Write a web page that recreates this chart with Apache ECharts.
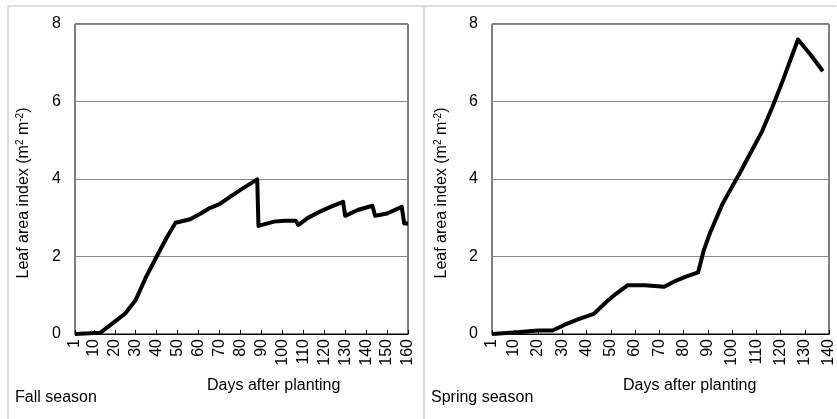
<!DOCTYPE html>
<html>
<head>
<meta charset="utf-8">
<script src="https://cdn.jsdelivr.net/npm/echarts@6/dist/echarts.min.js"></script>
<style>
  html, body { margin: 0; padding: 0; background: #fff; }
  #main { width: 837px; height: 419px; }
</style>
</head>
<body>
<div id="main"></div>
<script>
// fall season: [day, LAI]
const fallData = [
  [1, 0], [13, 0.03], [20, 0.32], [25, 0.53], [30, 0.88], [35, 1.48], [40, 2.0],
  [45, 2.51], [49, 2.87], [56, 2.96], [61, 3.11], [65, 3.24], [70, 3.35], [75, 3.54],
  [80, 3.72], [88, 3.99], [88.6, 2.79], [96, 2.9], [101, 2.92], [106.5, 2.92],
  [107.6, 2.81], [112, 2.99], [118, 3.16], [123, 3.28], [129, 3.41], [130, 3.05],
  [136, 3.2], [143, 3.31], [144.3, 3.05], [150, 3.11], [157, 3.28], [158.2, 2.85], [160, 2.85]
];
// spring season: [day, LAI]
const springData = [
  [1, 0], [10, 0.04], [20, 0.09], [26, 0.09], [31, 0.24], [37, 0.39], [43, 0.52],
  [48, 0.82], [52, 1.03], [57, 1.26], [64, 1.26], [72, 1.22], [77, 1.38], [81, 1.48],
  [86, 1.59], [88.3, 2.15], [91, 2.62], [96, 3.35], [99.3, 3.72], [103, 4.13],
  [107, 4.6], [112.4, 5.23], [116.6, 5.85], [120.7, 6.5], [127.2, 7.6], [132.5, 7.2], [137.5, 6.78]
];
const fallTicks = [1, 10, 20, 30, 40, 50, 60, 70, 80, 90, 100, 110, 120, 130, 140, 150, 160];
const springTicks = [1, 10, 20, 30, 40, 50, 60, 70, 80, 90, 100, 110, 120, 130, 140];

const font = 'Liberation Sans, Arial, sans-serif';
const chart = echarts.init(document.getElementById('main'));

function xAx(idx, max, ticks) {
  return {
    type: 'value', gridIndex: idx, min: 1, max: max,
    axisLine: { show: true, lineStyle: { color: '#000', width: 1 } },
    axisTick: { show: true, inside: true, length: 4, customValues: ticks, lineStyle: { color: '#000' } },
    axisLabel: { customValues: ticks, rotate: 90, margin: 5, fontSize: 16, color: '#000', fontFamily: font },
    splitLine: { show: false }
  };
}
function yAx(idx) {
  return {
    type: 'value', gridIndex: idx, min: 0, max: 8, interval: 2,
    axisLine: { show: false }, axisTick: { show: false },
    axisLabel: { margin: 14, fontSize: 16, color: '#000', fontFamily: font },
    splitLine: { show: true, lineStyle: { color: '#888', width: 1 } }
  };
}
const yNameRich = { s: { fontSize: 10, fontFamily: font, fill: '#000', padding: [0, 0, 8, 0] } };
function yName(x) {
  return {
    type: 'text', x: x, y: 193, rotation: Math.PI / 2,
    style: {
      text: 'Leaf area index (m{s|2} m{s|-2})', rich: yNameRich,
      fontSize: 16, fontFamily: font, fill: '#000', align: 'center', verticalAlign: 'middle'
    }
  };
}
function txt(x, y, s) {
  return { type: 'text', x: x, y: y, style: { text: s, fontSize: 16, fontFamily: font, fill: '#000', verticalAlign: 'middle' } };
}

chart.setOption({
  animation: false,
  grid: [
    { left: 75, right: 429, top: 24, bottom: 85, show: true, borderColor: '#000', borderWidth: 1 },
    { left: 492, right: 8, top: 24, bottom: 85, show: true, borderColor: '#000', borderWidth: 1 }
  ],
  xAxis: [xAx(0, 160, fallTicks), xAx(1, 140, springTicks)],
  yAxis: [yAx(0), yAx(1)],
  series: [
    { type: 'line', xAxisIndex: 0, yAxisIndex: 0, data: fallData, showSymbol: false,
      lineStyle: { color: '#000', width: 4, join: 'round' } },
    { type: 'line', xAxisIndex: 1, yAxisIndex: 1, data: springData, showSymbol: false,
      lineStyle: { color: '#000', width: 4, join: 'round' } }
  ],
  graphic: [
    { type: 'line', shape: { x1: 8, y1: 6, x2: 836, y2: 6 }, style: { stroke: '#dcdcdc', lineWidth: 2 } },
    { type: 'line', shape: { x1: 8, y1: 6, x2: 8, y2: 419 }, style: { stroke: '#dcdcdc', lineWidth: 2 } },
    { type: 'line', shape: { x1: 424, y1: 6, x2: 424, y2: 419 }, style: { stroke: '#dcdcdc', lineWidth: 2.5 } },
    yName(24), yName(442),
    txt(207, 386, 'Days after planting'),
    txt(15, 398, 'Fall season'),
    txt(623, 386, 'Days after planting'),
    txt(431, 398, 'Spring season')
  ]
});
</script>
</body>
</html>
